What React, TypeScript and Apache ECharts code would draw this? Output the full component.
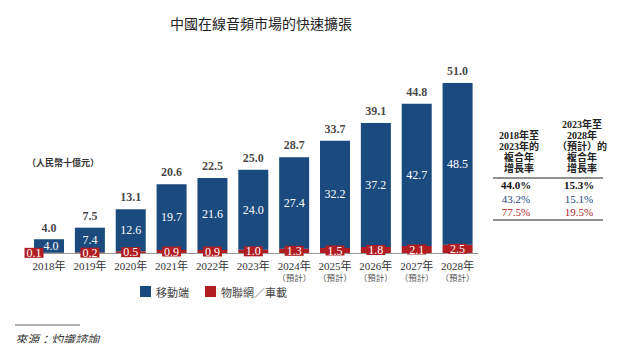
import React, { useEffect, useRef } from "react";
import * as echarts from "echarts";

const categories = [
  "2018年", "2019年", "2020年", "2021年", "2022年", "2023年",
  "2024年\n（預計）", "2025年\n（預計）", "2026年\n（預計）", "2027年\n（預計）", "2028年\n（預計）",
];
const mobile = [4.0, 7.4, 12.6, 19.7, 21.6, 24.0, 27.4, 32.2, 37.2, 42.7, 48.5];
const iot = [0.1, 0.2, 0.5, 0.9, 0.9, 1.0, 1.3, 1.5, 1.8, 2.1, 2.5];
const totals = [4.0, 7.5, 13.1, 20.6, 22.5, 25.0, 28.7, 33.7, 39.1, 44.8, 51.0];
const cagrTotal = ["44.0%", "15.3%"];
const cagrMobile = ["43.2%", "15.1%"];
const cagrIot = ["77.5%", "19.5%"];

const BLUE = "#1b4a7e";
const RED = "#b01e23";
const SERIF = "'Liberation Serif', 'Noto Sans CJK TC', serif";
const CJK = "'Noto Sans CJK TC', 'Noto Sans', sans-serif";

export default function App() {
  const ref = useRef<HTMLDivElement>(null);
  useEffect(() => {
    if (!ref.current) return;
    const chart = echarts.init(ref.current, undefined, { renderer: "svg" });
    chart.setOption({
      animation: false,
      title: {
        text: "中國在線音頻市場的快速擴張",
        left: 256,
        top: 11,
        textAlign: "center",
        textStyle: { fontFamily: CJK, fontSize: 14, fontWeight: "normal", color: "#222" },
      },
      legend: {
        data: ["移動端", "物聯網／車載"],
        left: 135,
        top: 281,
        itemWidth: 11,
        itemHeight: 11,
        itemGap: 16,
        icon: "rect",
        textStyle: { fontFamily: CJK, fontSize: 11, color: "#444" },
      },
      grid: { left: 28.6, right: 162, top: 53, bottom: 98, containLabel: false },
      xAxis: {
        type: "category",
        data: categories,
        axisTick: { show: false },
        axisLine: { lineStyle: { color: "#999", width: 1 } },
        axisLabel: {
          margin: 6,
          interval: 0,
          formatter: (v: string) => {
            const parts = v.split("\n");
            return parts.length > 1 ? `{y|${parts[0]}}\n{p|${parts[1]}}` : `{y|${parts[0]}}`;
          },
          rich: {
            y: { fontFamily: SERIF, fontSize: 11, color: "#333", lineHeight: 13 },
            p: { fontFamily: CJK, fontSize: 8.5, color: "#555", lineHeight: 10 },
          },
        },
      },
      yAxis: { type: "value", min: 0, max: 60, show: false, splitLine: { show: false } },
      series: [
        {
          name: "物聯網／車載",
          type: "bar",
          stack: "s",
          barWidth: 30,
          itemStyle: { color: RED },
          data: iot.map((v, i) => ({
            value: v,
            label: i === 0 ? { offset: [-15, 0] } : undefined,
          })),
          label: {
            show: true,
            position: "inside",
            color: "#fff",
            backgroundColor: RED,
            padding: [0, 2, 0, 2],
            fontFamily: SERIF,
            fontSize: 12,
            lineHeight: 10,
            formatter: (p: any) => p.value.toFixed(1),
          },
        },
        {
          name: "移動端",
          type: "bar",
          stack: "s",
          barWidth: 30,
          itemStyle: { color: BLUE },
          data: mobile.map((v, i) => ({
            value: v,
            label: i === 0 ? { offset: [2, 0] } : undefined,
          })),
          label: {
            show: true,
            position: "inside",
            color: "#fff",
            fontFamily: SERIF,
            fontSize: 12,
            formatter: (p: any) => p.value.toFixed(1),
          },
        },
        {
          name: "total",
          type: "scatter",
          symbolSize: 0,
          data: totals,
          silent: true,
          label: {
            show: true,
            position: "top",
            distance: 6,
            color: "#111",
            fontFamily: SERIF,
            fontWeight: "bold",
            fontSize: 12,
            formatter: (p: any) => p.value.toFixed(1),
          },
        },
      ],
      graphic: [
        {
          type: "text",
          left: 27,
          top: 158,
          style: { text: "（人民幣十億元）", fontFamily: CJK, fontSize: 9, fontWeight: "bold", fill: "#333" },
        },
        {
          type: "text",
          x: 519,
          y: 151.5,
          style: {
            text: "2018年至\n2023年的\n複合年\n增長率",
            textAlign: "center",
            textVerticalAlign: "middle",
            fontFamily: SERIF,
            fontSize: 10,
            lineHeight: 11,
            fontWeight: "bold",
            fill: "#222",
          },
        },
        {
          type: "text",
          x: 582,
          y: 146,
          style: {
            text: "2023年至\n2028年\n（預計）的\n複合年\n增長率",
            textAlign: "center",
            textVerticalAlign: "middle",
            fontFamily: SERIF,
            fontSize: 10,
            lineHeight: 11,
            fontWeight: "bold",
            fill: "#222",
          },
        },
        { type: "line", shape: { x1: 493, y1: 178, x2: 603, y2: 178 }, style: { stroke: "#222", lineWidth: 1 } },
        { type: "line", shape: { x1: 493, y1: 220, x2: 603, y2: 220 }, style: { stroke: "#222", lineWidth: 1 } },
        ...[0, 1].flatMap((c) => {
          const x = c === 0 ? 516 : 579;
          return [
            { type: "text", x, y: 185, style: { text: cagrTotal[c], textAlign: "center", textVerticalAlign: "middle", fontFamily: SERIF, fontSize: 11, fontWeight: "bold", fill: "#111" } },
            { type: "text", x, y: 199, style: { text: cagrMobile[c], textAlign: "center", textVerticalAlign: "middle", fontFamily: SERIF, fontSize: 11, fill: BLUE } },
            { type: "text", x, y: 212, style: { text: cagrIot[c], textAlign: "center", textVerticalAlign: "middle", fontFamily: SERIF, fontSize: 11, fill: RED } },
          ];
        }),
        { type: "line", shape: { x1: 15, y1: 325, x2: 80, y2: 325 }, style: { stroke: "#666", lineWidth: 1 } },
        {
          type: "text",
          x: 15,
          y: 338,
          style: {
            text: "來源：灼識諮詢",
            textVerticalAlign: "middle",
            fontFamily: CJK,
            fontSize: 12,
            fontStyle: "italic",
            fill: "#333",
          },
        },
      ],
    });
    return () => chart.dispose();
  }, []);
  return <div ref={ref} style={{ width: 640, height: 351, margin: -8 }} />;
}
